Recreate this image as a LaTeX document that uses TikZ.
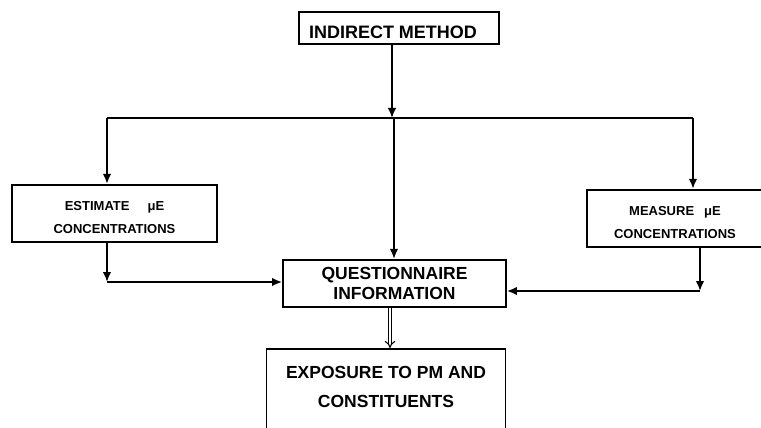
\documentclass[tikz,border=0pt]{standalone}
\usepackage{fontspec}
\setmainfont{Liberation Sans}
\usepackage{tikz}
\usetikzlibrary{arrows.meta, positioning}
\tikzstyle{box}=[draw, line width=1.8pt, inner sep=0pt, align=center, font=\bfseries]
\tikzstyle{small}=[align=center, yshift=-4pt, font=\bfseries\fontsize{13}{15}\selectfont]
\tikzstyle{arr} = [line width=1.8pt, -{Latex[length=10pt,width=8.5pt]}]
\tikzstyle{dbl} = [line width=1.1pt, double, double distance=2.4pt, -{Implies[length=8pt]}]

\begin{document}
\begin{tikzpicture}[x=1pt, y=-1pt]
    \useasboundingbox (0,0) rectangle (761,428);

    \node [box, minimum width=200pt, minimum height=32pt, text height=22pt, text depth=0pt,
           font=\bfseries\fontsize{18}{20}\selectfont] (ind) at (399,28) {INDIRECT METHOD\hspace{12pt}};
    \node [box, minimum width=205pt, minimum height=57.5pt,
           label={[small]center:ESTIMATE\hspace{18pt}μE\\[8pt] CONCENTRATIONS}] (est) at (114.5,213.5) {};
    \node [box, minimum width=176pt, minimum height=57pt,
           label={[small]center:MEASURE\hspace{10pt}μE\\[8pt] CONCENTRATIONS}] (meas) at (675,218.2) {};
    \node [box, minimum width=223pt, minimum height=47pt,
           font=\bfseries\fontsize{17.5}{20}\selectfont] (quest) at (394.5,283.3) {QUESTIONNAIRE\\INFORMATION};
    \node [box, minimum width=239pt, anchor=north, inner ysep=17pt, text depth=60pt,
           font=\bfseries\fontsize{17.5}{20}\selectfont] (expo) at (386,348) {EXPOSURE TO PM AND\\[9pt] CONSTITUENTS};

    % junctions
    \coordinate (top) at (392,118);
    \coordinate (lt) at (107,118);
    \coordinate (rt) at (693,118);
    \coordinate (mid) at (394,118);
    \coordinate (lb) at (107,282);
    \coordinate (rb) at (700,291);
    \coordinate (dx) at (390,320);

    \draw[arr] (ind.south -| top) -- (top);
    \draw[line width=1.8pt] (lt) -- (rt);
    \draw[arr] (lt) -- (est.north -| lt);
    \draw[arr] (rt) -- (meas.north -| rt);
    \draw[arr] (mid) -- (quest.north -| mid);

    \draw[arr] (est.south -| lb) -- (lb);
    \draw[arr] (lb) -- (quest.west |- lb);
    \draw[arr] (meas.south -| rb) -- (rb);
    \draw[arr] (rb) -- (quest.east |- rb);

    \draw[dbl] (quest.south -| dx) -- (expo.north -| dx);
\end{tikzpicture}
\end{document}
